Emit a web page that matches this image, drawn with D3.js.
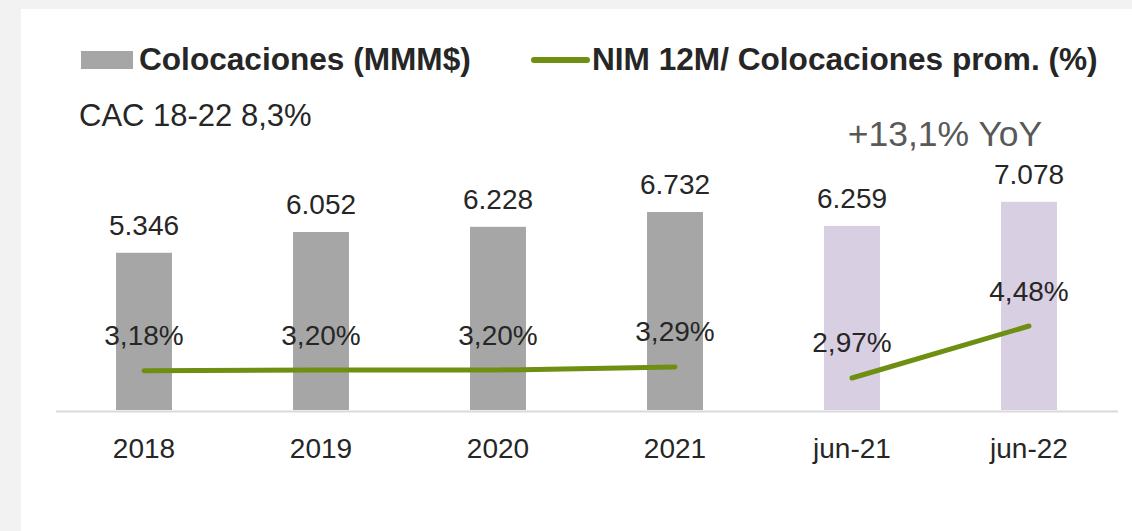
<!DOCTYPE html>
<html>
<head>
<meta charset="utf-8">
<script src="https://cdn.jsdelivr.net/npm/d3@7"></script>
<style>
  html, body { margin: 0; padding: 0; background: #f2f2f2; }
  svg { display: block; font-family: 'Liberation Sans', Arial, sans-serif; }
</style>
</head>
<body>
<div id="chart"></div>
<script>
const categories = ['2018', '2019', '2020', '2021', 'jun-21', 'jun-22'];
const colocaciones = [5346, 6052, 6228, 6732, 6259, 7078];
const colocLabels = ['5.346', '6.052', '6.228', '6.732', '6.259', '7.078'];
const nim = [3.18, 3.20, 3.20, 3.29, 2.97, 4.48];
const nimLabels = ['3,18%', '3,20%', '3,20%', '3,29%', '2,97%', '4,48%'];
// the line is broken between the yearly and the june points
const lineGroups = [[0, 1, 2, 3], [4, 5]];

const width = 1132;
const height = 531;
const textColor = '#262626';

let svg = d3.select('#chart').append('svg').attr('width', width).attr('height', height);

// white panel
svg.append('rect')
  .attr('x', 21).attr('y', 9)
  .attr('width', width - 21).attr('height', height - 9)
  .attr('fill', '#ffffff');

let xScale = d3.scaleBand()
  .domain(categories)
  .range([55.5, 1117.5])
  .paddingInner(0.684)
  .paddingOuter(0.342);

let yScale = d3.scaleLinear().domain([0, 10000]).range([410, 115.9]);
let y2Scale = d3.scaleLinear().domain([2, 5]).range([411.4, 308.1]);

// bars
svg.selectAll('.bar')
  .data(categories)
  .enter()
  .append('rect')
  .attr('class', 'bar')
  .attr('x', (d) => xScale(d))
  .attr('y', (d, i) => yScale(colocaciones[i]))
  .attr('width', xScale.bandwidth())
  .attr('height', (d, i) => yScale(0) - yScale(colocaciones[i]))
  .attr('fill', (d, i) => (i < 4 ? '#a6a6a6' : '#d9cfe3'));

// axis line
let xAxis = d3.axisBottom(xScale).tickSize(0).tickPadding(0);
let gx = svg.append('g')
  .attr('transform', 'translate(0,' + 411 + ')')
  .call(xAxis);
gx.select('.domain').attr('stroke', '#d9d9d9').attr('stroke-width', 2);
gx.selectAll('.tick text')
  .attr('dy', null)
  .attr('y', 47)
  .attr('font-size', 28)
  .attr('font-family', "'Liberation Sans', Arial, sans-serif")
  .attr('fill', textColor);

// bar value labels
svg.selectAll('.bar-label')
  .data(categories)
  .enter()
  .append('text')
  .attr('class', 'bar-label')
  .attr('x', (d) => xScale(d) + xScale.bandwidth() / 2)
  .attr('y', (d, i) => yScale(colocaciones[i]) - 18)
  .attr('text-anchor', 'middle')
  .attr('font-size', 28)
  .attr('fill', textColor)
  .text((d, i) => colocLabels[i]);

// NIM line
let line = d3.line()
  .x((i) => xScale(categories[i]) + xScale.bandwidth() / 2)
  .y((i) => y2Scale(nim[i]));

svg.selectAll('.nim-line')
  .data(lineGroups)
  .enter()
  .append('path')
  .attr('class', 'nim-line')
  .attr('d', line)
  .attr('fill', 'none')
  .attr('stroke', '#6e8f12')
  .attr('stroke-width', 5)
  .attr('stroke-linecap', 'round');

// NIM labels
svg.selectAll('.nim-label')
  .data(categories)
  .enter()
  .append('text')
  .attr('class', 'nim-label')
  .attr('x', (d) => xScale(d) + xScale.bandwidth() / 2)
  .attr('y', (d, i) => y2Scale(nim[i]) - 25.5)
  .attr('text-anchor', 'middle')
  .attr('font-size', 28)
  .attr('fill', textColor)
  .text((d, i) => nimLabels[i]);

// legend
svg.append('rect')
  .attr('x', 81).attr('y', 51)
  .attr('width', 52).attr('height', 18)
  .attr('fill', '#a6a6a6');
svg.append('text')
  .attr('x', 139).attr('y', 70)
  .attr('font-size', 31.6).attr('font-weight', 'bold')
  .attr('fill', textColor)
  .text('Colocaciones (MMM$)');

svg.append('line')
  .attr('x1', 534).attr('x2', 587)
  .attr('y1', 60).attr('y2', 60)
  .attr('stroke', '#6e8f12')
  .attr('stroke-width', 6)
  .attr('stroke-linecap', 'round');
svg.append('text')
  .attr('x', 592).attr('y', 70)
  .attr('font-size', 31.6).attr('font-weight', 'bold')
  .attr('fill', textColor)
  .text('NIM 12M/ Colocaciones prom. (%)');

// notes
svg.append('text')
  .attr('x', 79).attr('y', 126)
  .attr('font-size', 31)
  .attr('fill', textColor)
  .text('CAC 18-22 8,3%');

svg.append('text')
  .attr('x', 945).attr('y', 146)
  .attr('text-anchor', 'middle')
  .attr('font-size', 35.5)
  .attr('fill', '#595959')
  .text('+13,1% YoY');
</script>
</body>
</html>
